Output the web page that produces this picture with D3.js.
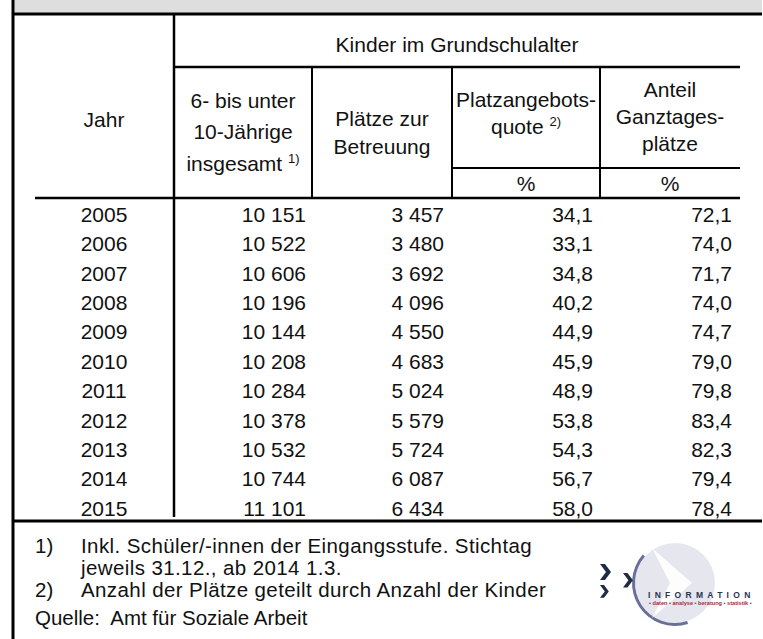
<!DOCTYPE html>
<html>
<head>
<meta charset="utf-8">
<script src="https://cdn.jsdelivr.net/npm/d3@7"></script>
<style>
  body { margin: 0; background: #fff; }
  svg { display: block; font-family: "Liberation Sans", Arial, sans-serif; }
</style>
</head>
<body>
<svg></svg>
<script>
// DATA ////////////////////////////////////////////////////////////////////////
const years = [2005, 2006, 2007, 2008, 2009, 2010, 2011, 2012, 2013, 2014, 2015];
const kinder = [10151, 10522, 10606, 10196, 10144, 10208, 10284, 10378, 10532, 10744, 11101];
const plaetze = [3457, 3480, 3692, 4096, 4550, 4683, 5024, 5579, 5724, 6087, 6434];
const quote = [34.1, 33.1, 34.8, 40.2, 44.9, 45.9, 48.9, 53.8, 54.3, 56.7, 58.0];
const anteil = [72.1, 74.0, 71.7, 74.0, 74.7, 79.0, 79.8, 83.4, 82.3, 79.4, 78.4];
const footnotes = [
  ['1)', 'Inkl. Schüler/-innen der Eingangsstufe. Stichtag'],
  ['', 'jeweils 31.12., ab 2014 1.3.'],
  ['2)', 'Anzahl der Plätze geteilt durch Anzahl der Kinder']
];
const source = 'Quelle:  Amt für Soziale Arbeit';

// SET PARAMETERS //////////////////////////////////////////////////////////////
const W = 763, H = 639;
const svg = d3.select('svg').attr('width', W).attr('height', H);

const de = d3.formatLocale({ decimal: ',', thousands: ' ', grouping: [3], currency: ['', ' €'] });
const fmtInt = de.format(',d');
const fmtDec = de.format('.1f');

const fs = 21;

// row scale
const y = d3.scaleBand().domain(years).range([200, 523]);

// frame and header band
svg.append('rect').attr('x', 13).attr('y', 0).attr('width', 749).attr('height', 14).attr('fill', '#dedede');

const line = (x1, y1, x2, y2, w) => svg.append('line')
  .attr('x1', x1).attr('y1', y1).attr('x2', x2).attr('y2', y2)
  .attr('stroke', '#000').attr('stroke-width', w || 2);

line(13, 0, 13, H, 3);
line(12, 14, 762, 14, 3);
line(12, 521, 762, 521, 3);

line(174, 14, 174, 517, 2.5);
line(174, 67, 740, 67, 2.5);
line(312, 67, 312, 198, 2);
line(452, 67, 452, 198, 2);
line(600, 67, 600, 198, 2);
line(452, 168, 740, 168, 2);
line(35, 198, 740, 198, 2.5);

// header text
const txt = (x, yy, s, anchor) => svg.append('text')
  .attr('x', x).attr('y', yy)
  .attr('text-anchor', anchor || 'middle')
  .attr('font-size', fs).attr('fill', '#111')
  .text(s);

const sup = (t, s) => t.append('tspan').attr('font-size', 13).attr('dy', -8).text(s);

txt(457, 52, 'Kinder im Grundschulalter');
txt(104, 127, 'Jahr');

txt(243, 108, '6- bis unter');
txt(243, 139, '10-Jährige');
sup(txt(243, 171, 'insgesamt '), '1)');

txt(382, 126, 'Plätze zur');
txt(382, 154, 'Betreuung');

txt(526, 107, 'Platzangebots-');
sup(txt(526, 134, 'quote '), '2)');

txt(670, 97, 'Anteil');
txt(670, 124, 'Ganztages-');
txt(670, 151, 'plätze');

txt(526, 191, '%');
txt(670, 191, '%');

// DRAW ROWS ///////////////////////////////////////////////////////////////////
const rows = years.map((yr, i) => ({ yr, k: kinder[i], p: plaetze[i], q: quote[i], a: anteil[i] }));

const cols = [
  { x: 104, anchor: 'middle', v: d => d.yr },
  { x: 306, anchor: 'end', v: d => fmtInt(d.k) },
  { x: 444, anchor: 'end', v: d => fmtInt(d.p) },
  { x: 593, anchor: 'end', v: d => fmtDec(d.q) },
  { x: 732, anchor: 'end', v: d => fmtDec(d.a) }
];

const rowG = svg.selectAll('.row').data(rows).enter().append('g')
  .attr('class', 'row')
  .attr('transform', d => `translate(0, ${y(d.yr) + 22})`);

cols.forEach(c => {
  rowG.append('text')
    .attr('x', c.x)
    .attr('text-anchor', c.anchor)
    .attr('font-size', fs).attr('fill', '#111')
    .text(c.v);
});

// footnotes
const fy = [553, 575, 597];
footnotes.forEach((f, i) => {
  svg.append('text').attr('x', 35).attr('y', fy[i]).attr('font-size', 20.5).attr('fill', '#111').text(f[0]);
  svg.append('text').attr('x', 81).attr('y', fy[i]).attr('font-size', 20.5).attr('letter-spacing', 0.4)
    .attr('fill', '#111').text(f[1]);
});
svg.append('text').attr('x', 35).attr('y', 625).attr('font-size', 20.5).attr('fill', '#111')
  .style('white-space', 'pre').text(source);

// logo
const logo = svg.append('g');
logo.append('circle').attr('cx', 675).attr('cy', 583).attr('r', 40).attr('fill', '#e6e6ef');
logo.append('path')
  .attr('d', d3.arc()({ innerRadius: 40, outerRadius: 43, startAngle: -0.85, endAngle: -3.45 }))
  .attr('transform', 'translate(675,583)')
  .attr('fill', '#6a6f98');
logo.append('path').attr('d', 'M652,548 L692,583 L652,618 L670,583 Z').attr('fill', '#fff').attr('opacity', 0.9);
const chev = (x, yy, s) => logo.append('path')
  .attr('d', `M${x},${yy} L${x + 5 * s},${yy} L${x + 11 * s},${yy + 8 * s} L${x + 5 * s},${yy + 16 * s} L${x},${yy + 16 * s} L${x + 6 * s},${yy + 8 * s} Z`)
  .attr('fill', '#1f2b46');
chev(600, 564, 1);
chev(600, 585, 0.8);
chev(623, 573, 0.9);
logo.append('text').attr('x', 648).attr('y', 598).attr('font-size', 8.5).attr('font-weight', 'bold')
  .attr('letter-spacing', 4.3).attr('fill', '#2b3550').text('INFORMATION');
logo.append('text').attr('x', 649).attr('y', 605).attr('font-size', 5.6).attr('font-weight', 'bold')
  .attr('fill', '#a0303c').text('• daten • analyse • beratung • statistik •');
</script>
</body>
</html>
